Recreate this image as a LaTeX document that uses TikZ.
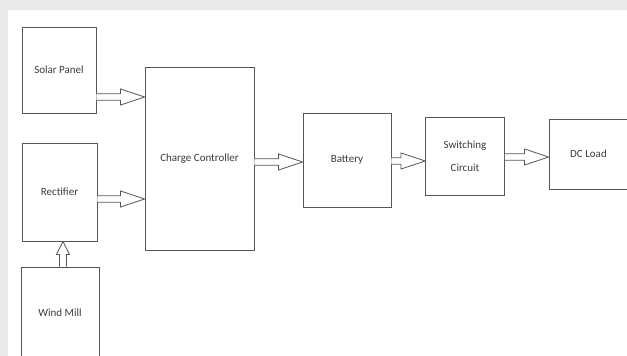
\documentclass[tikz,border=0pt]{standalone}
\usepackage{fontspec}
\setmainfont{Carlito}
\begin{document}
\begin{tikzpicture}[x=1pt,y=-1pt,
  box/.style={draw=linegray, line width=0.9pt, fill=white, inner sep=0pt, text=textgray,
    font=\fontsize{11}{13}\selectfont, align=center},
  conn/.style={draw=linegray, line width=0.8pt, fill=white, line join=miter}]
\definecolor{linegray}{HTML}{555555}
\definecolor{textgray}{HTML}{3C3C3C}
\definecolor{bggray}{HTML}{E9E9E9}
\useasboundingbox (0,0) rectangle (627,356);
\fill[bggray] (0,0) rectangle (627,356);
\fill[white] (8,10) rectangle (627,356);
% boxes
\node[box, minimum width=74pt, minimum height=86pt] (solar) at (59,70) {Solar Panel};
\node[box, minimum width=75pt, minimum height=98pt] (rect) at (59.5,192) {Rectifier};
\node[box, minimum width=78pt, minimum height=92pt] (wind) at (60,313) {Wind Mill};
\node[box, minimum width=109pt, minimum height=183pt] (cc) at (199.5,158.5) {Charge Controller};
\node[box, minimum width=88pt, minimum height=94pt] (bat) at (347,160) {Battery};
\node[box, minimum width=79pt, minimum height=78pt] (sw) at (465,156) {Switching\\[10pt]Circuit};
\node[box, minimum width=79pt, minimum height=70pt] (dc) at (588.5,154) {DC Load};
% connector points
\coordinate (a1) at ([yshift=-27pt]solar.east);
\coordinate (b1) at (a1 -| cc.west);
\coordinate (a2) at ([yshift=-7pt]rect.east);
\coordinate (b2) at (a2 -| cc.west);
\coordinate (a3) at ([yshift=-3.5pt]cc.east);
\coordinate (b3) at (a3 -| bat.west);
\coordinate (a4) at ([yshift=-1pt]bat.east);
\coordinate (b4) at (a4 -| sw.west);
\coordinate (a5) at ([yshift=-1pt]sw.east);
\coordinate (b5) at (a5 -| dc.west);
\coordinate (a6) at ([xshift=3pt]wind.north);
\coordinate (b6) at (a6 |- rect.south);
% horizontal block arrows
\foreach \s/\e in {a1/b1,a2/b2,a3/b3,a4/b4,a5/b5}{
  \draw[conn] ([yshift=3.3pt]\s) -- ([xshift=-24pt,yshift=3.3pt]\e) -- ([xshift=-24pt,yshift=8pt]\e)
    -- (\e) -- ([xshift=-24pt,yshift=-8pt]\e) -- ([xshift=-24pt,yshift=-3.3pt]\e) -- ([yshift=-3.3pt]\s);
}
% vertical block arrow
\draw[conn] ([xshift=-3.5pt]a6) -- ([xshift=-3.5pt,yshift=-13pt]b6) -- ([xshift=-6.5pt,yshift=-13pt]b6)
  -- (b6) -- ([xshift=6.5pt,yshift=-13pt]b6) -- ([xshift=3.5pt,yshift=-13pt]b6) -- ([xshift=3.5pt]a6);
\end{tikzpicture}
\end{document}
